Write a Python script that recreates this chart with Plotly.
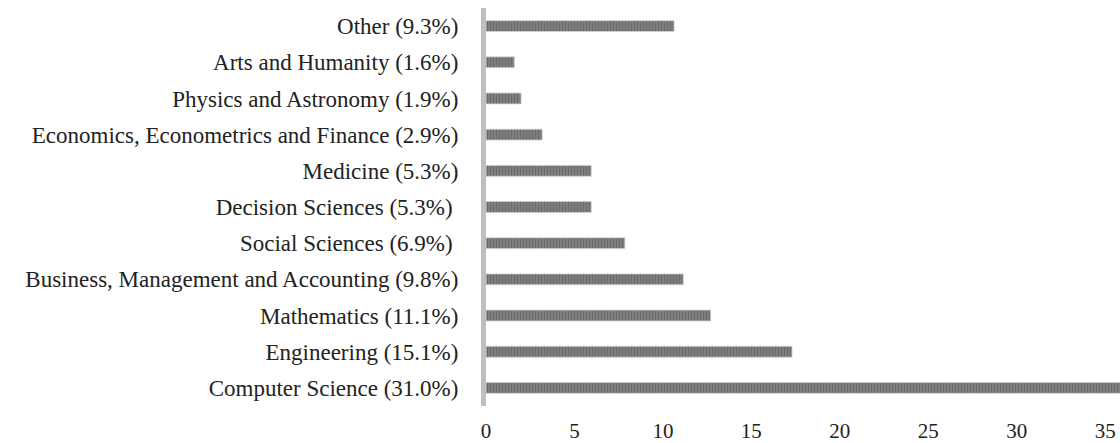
import plotly.graph_objects as go

categories = [
    "Computer Science (31.0%)",
    "Engineering (15.1%)",
    "Mathematics (11.1%)",
    "Business, Management and Accounting (9.8%)",
    "Social Sciences (6.9%) ",
    "Decision Sciences (5.3%) ",
    "Medicine (5.3%)",
    "Economics, Econometrics and Finance (2.9%)",
    "Physics and Astronomy (1.9%)",
    "Arts and Humanity (1.6%)",
    "Other (9.3%)",
]
values = [36.0, 17.3, 12.7, 11.15, 7.85, 5.95, 5.95, 3.17, 1.98, 1.6, 10.63]
x_ticks = [0, 5, 10, 15, 20, 25, 30, 35]

FONT = "Liberation Serif"

fig = go.Figure(
    go.Bar(
        x=values,
        y=categories,
        orientation="h",
        marker=dict(
            color="#5e5e5e",
            line=dict(color="#d0d0d0", width=0.8),
            pattern=dict(
                shape="|",
                size=3,
                solidity=0.55,
                fgcolor="#4e4e4e",
                bgcolor="#878787",
                fillmode="overlay",
            ),
        ),
        hoverinfo="x+y",
    )
)

fig.update_layout(
    width=1120,
    height=443,
    margin=dict(l=486, r=0, t=8, b=37, autoexpand=False),
    paper_bgcolor="white",
    plot_bgcolor="white",
    bargap=0.7,
    showlegend=False,
    font=dict(family=FONT, size=23, color="#222222"),
)
fig.update_xaxes(
    range=[0, 35.84],
    tickvals=x_ticks,
    ticktext=[str(v) for v in x_ticks],
    showgrid=False,
    zeroline=False,
    showline=False,
    ticks="",
    automargin=False,
    ticklabelstandoff=10,
    tickfont=dict(family=FONT, size=21, color="#222222"),
)
fig.update_yaxes(
    categoryorder="array",
    categoryarray=categories,
    showgrid=False,
    zeroline=False,
    showline=True,
    linecolor="#bfbfbf",
    linewidth=5,
    ticks="",
    automargin=False,
    ticklabelstandoff=18,
    tickfont=dict(family=FONT, size=23, color="#222222"),
)

fig.write_html(
    "out.html",
    config={"displayModeBar": False},
    post_script="document.body.style.margin='0';document.body.style.overflow='hidden';",
)
